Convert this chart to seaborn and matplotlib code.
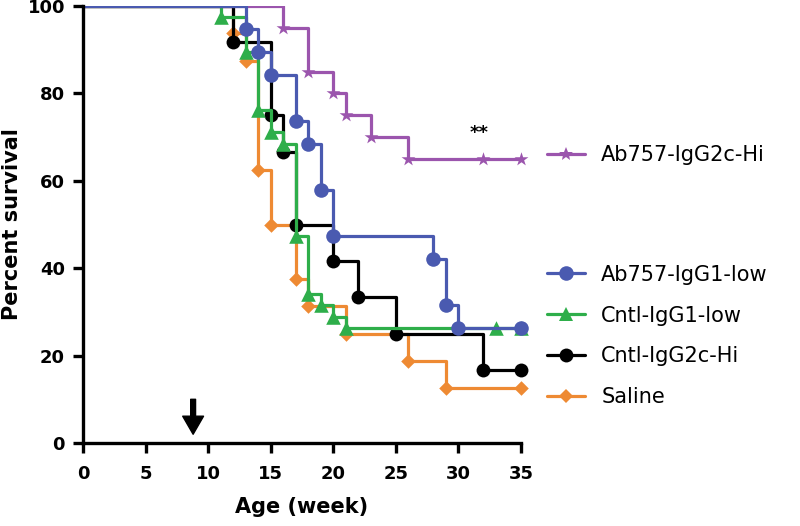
import numpy as np
import pandas as pd
import matplotlib
matplotlib.use("Agg")
import matplotlib.pyplot as plt
from matplotlib.lines import Line2D
import seaborn as sns

# groups, in drawing order (bottom -> top)
groups = ["Saline", "Cntl-IgG2c-Hi", "Cntl-IgG1-low", "Ab757-IgG2c-Hi", "Ab757-IgG1-low"]
colors = ["#ee8a33", "#000000", "#2eae4a", "#9b55ad", "#4a5ab0"]
markers = ["D", "o", "^", "*", "o"]
msizes = [55, 100, 110, 110, 110]

# survival curves: event week / percent surviving
saline_t = [12, 13, 14, 15, 17, 18, 21, 26, 29, 35]
saline_s = [93.8, 87.5, 62.5, 50.0, 37.5, 31.3, 25.0, 18.8, 12.5, 12.5]
cntl_g2c_t = [12, 15, 16, 17, 20, 22, 25, 32, 35]
cntl_g2c_s = [91.7, 75.0, 66.7, 50.0, 41.7, 33.3, 25.0, 16.7, 16.7]
cntl_g1_t = [11, 13, 14, 15, 16, 17, 18, 19, 20, 21, 33, 35]
cntl_g1_s = [97.4, 89.5, 76.3, 71.1, 68.4, 47.4, 34.2, 31.6, 28.9, 26.3, 26.3, 26.3]
ab_g2c_t = [16, 18, 20, 21, 23, 26, 32, 35]
ab_g2c_s = [95, 85, 80, 75, 70, 65, 65, 65]
ab_g1_t = [13, 14, 15, 17, 18, 19, 20, 28, 29, 30, 35]
ab_g1_s = [94.7, 89.5, 84.2, 73.7, 68.4, 57.9, 47.4, 42.1, 31.6, 26.3, 26.3]

times = [saline_t, cntl_g2c_t, cntl_g1_t, ab_g2c_t, ab_g1_t]
survs = [saline_s, cntl_g2c_s, cntl_g1_s, ab_g2c_s, ab_g1_s]

legend_order = ["Ab757-IgG1-low", "Cntl-IgG1-low", "Cntl-IgG2c-Hi", "Saline"]

sns.set_style("ticks")
plt.rcParams["font.family"] = ["DejaVu Sans"]
plt.rcParams["text.color"] = "black"
plt.rcParams["axes.labelcolor"] = "black"
plt.rcParams["xtick.color"] = "black"
plt.rcParams["ytick.color"] = "black"

fig = plt.figure(figsize=(8, 5.26), dpi=100)
ax = fig.add_axes([83 / 800, 83 / 526, 438 / 800, 437 / 526])

for i, g in enumerate(groups):
    df = pd.DataFrame({"week": [0] + times[i], "pct": [100] + survs[i]})
    sns.lineplot(data=df, x="week", y="pct", ax=ax, color=colors[i], lw=2.3,
                 drawstyle="steps-post", estimator=None, sort=False,
                 zorder=2 + i * 0.1)
    ev = df.iloc[1:]
    sns.scatterplot(data=ev, x="week", y="pct", ax=ax, color=colors[i],
                    marker=markers[i], s=msizes[i], linewidth=0,
                    zorder=2.05 + i * 0.1, clip_on=False)

ax.set_xlim(0, 35)
ax.set_ylim(0, 100)
ax.set_xticks(np.arange(0, 36, 5))
ax.set_yticks(np.arange(0, 101, 20))
sns.despine(ax=ax)
for s in ["left", "bottom"]:
    ax.spines[s].set_linewidth(2.4)
    ax.spines[s].set_color("black")
ax.tick_params(axis="both", width=2.4, length=7, labelsize=13)
ax.tick_params(axis="x", pad=9)
ax.tick_params(axis="y", pad=6)
for lab in ax.get_xticklabels() + ax.get_yticklabels():
    lab.set_fontweight("bold")

ax.set_xlabel("Age (week)", fontsize=15, fontweight="bold", labelpad=10)
ax.set_ylabel("Percent survival", fontsize=15, fontweight="bold", labelpad=4)

# significance mark and treatment arrow
ax.text(31.65, 71.0, "**", ha="center", va="center", fontsize=13, fontweight="bold")
ax.annotate("", xy=(8.8, 2.0), xytext=(8.8, 10.0),
            arrowprops=dict(facecolor="black", edgecolor="black", width=3.5,
                            headwidth=15, headlength=13, shrink=0))


def handle(g):
    i = groups.index(g)
    return Line2D([], [], color=colors[i], lw=2.3, marker=markers[i],
                  markersize=np.sqrt(msizes[i]), markeredgewidth=0)


fig.legend([handle("Ab757-IgG2c-Hi")], ["Ab757-IgG2c-Hi"],
           loc="center left", bbox_to_anchor=(547 / 800, (526 - 155) / 526),
           frameon=False, fontsize=15, handlelength=1.8, handletextpad=0.8,
           borderpad=0, borderaxespad=0)
fig.legend([handle(g) for g in legend_order], legend_order,
           loc="center left", bbox_to_anchor=(547 / 800, (526 - 336) / 526),
           frameon=False, fontsize=15, handlelength=1.8, handletextpad=0.8,
           borderpad=0, borderaxespad=0, labelspacing=1.0)

fig.savefig("out.png", dpi=100)
